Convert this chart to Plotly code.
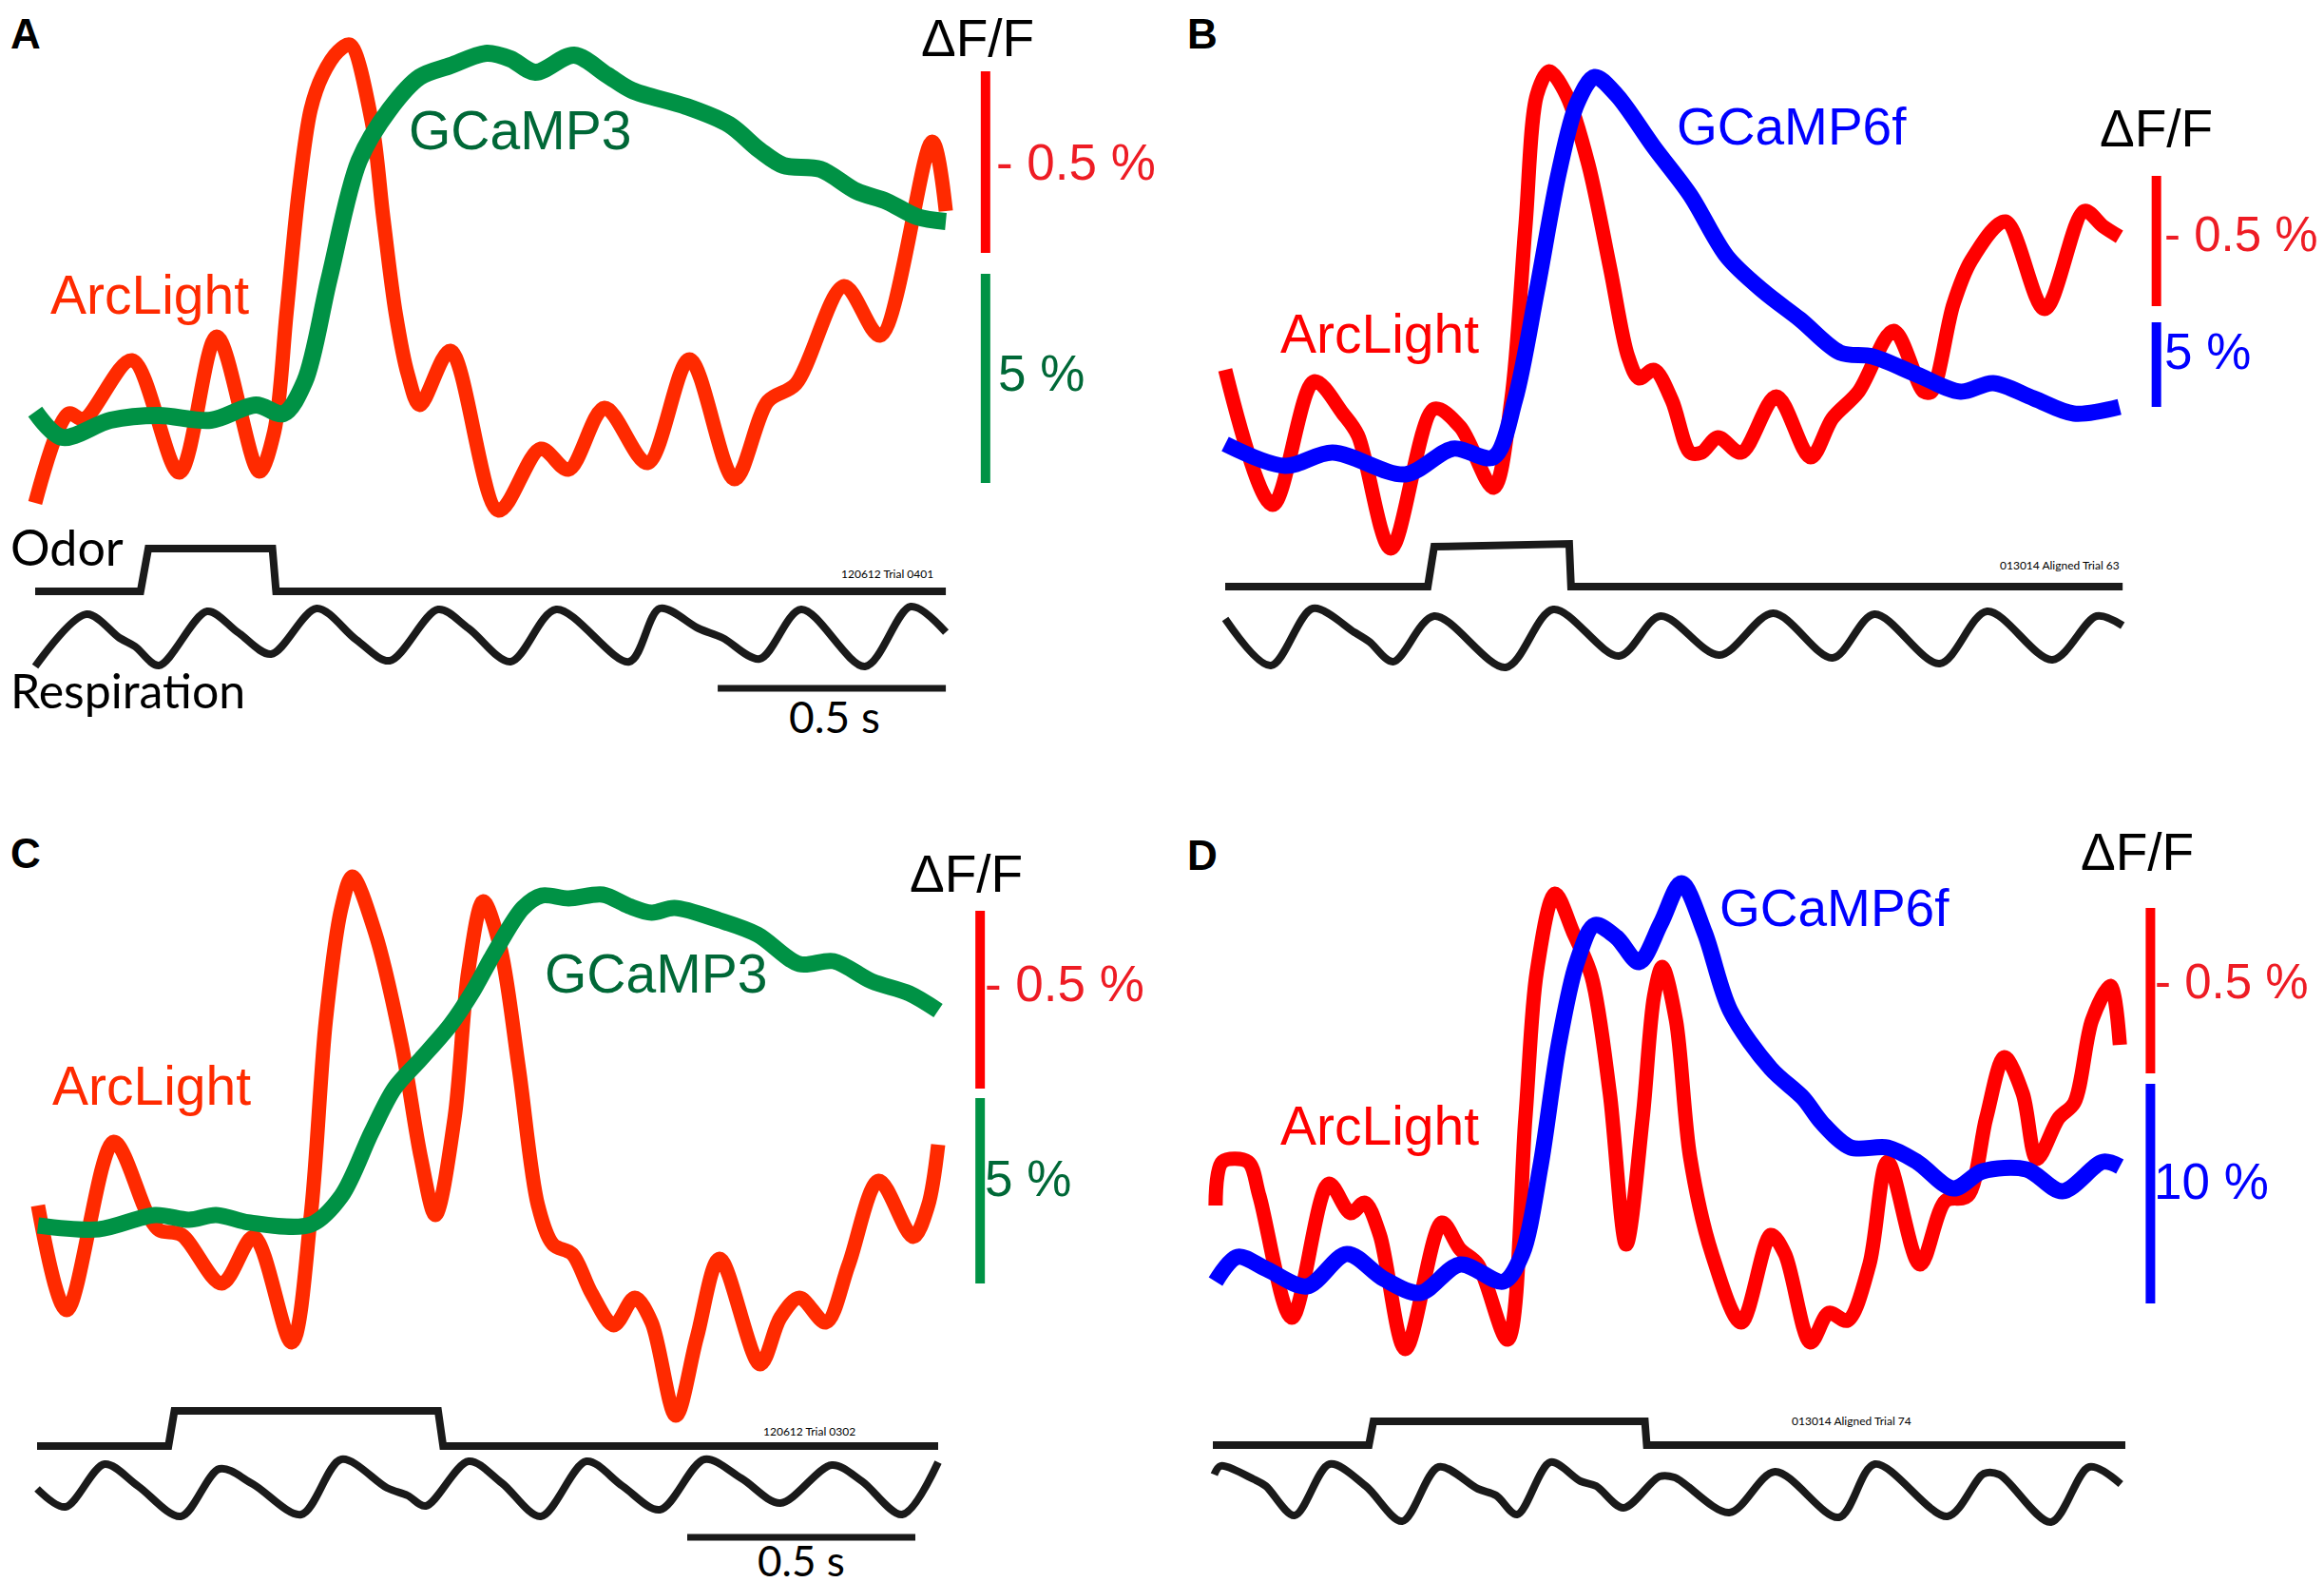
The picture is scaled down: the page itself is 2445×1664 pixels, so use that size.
import plotly.graph_objects as go

W, H = 2445, 1664
PX_PER_S = 480  # horizontal scale shared by the four panels

# ---------------- Panel A : ArcLight + GCaMP3 ----------------
A_RED_T = [0.000, 0.073, 0.106, 0.212, 0.316, 0.398, 0.491, 0.524, 0.551, 0.577, 0.604, 0.630, 0.664,
           0.690, 0.737, 0.763, 0.790, 0.817, 0.843, 0.910, 1.016, 1.108, 1.169, 1.248, 1.342, 1.434,
           1.533, 1.606, 1.667, 1.773, 1.852, 1.966, 1.996]
A_RED_V = [239, 333, 327, 389, 271, 414, 272, 314, 439, 564, 653, 689, 714,
           721, 642, 539, 439, 374, 342, 399, 231, 296, 274, 339, 281, 390,
           264, 346, 364, 467, 415, 619, 546]
A_GRN_T = [0.000, 0.059, 0.165, 0.271, 0.385, 0.484, 0.544, 0.591, 0.644, 0.710, 0.777, 0.843, 0.910,
           0.990, 1.042, 1.096, 1.181, 1.254, 1.308, 1.427, 1.521, 1.588, 1.640, 1.721, 1.800, 1.867,
           1.933, 1.996]
A_GRN_V = [335, 308, 326, 331, 326, 342, 333, 367, 474, 599, 653, 687, 699,
           712, 706, 692, 710, 689, 673, 656, 637, 610, 594, 590, 567, 556,
           540, 535]
A_ODOR_T = [0.0, 0.231, 0.248, 0.520, 0.528, 1.996]
A_ODOR_V = [146, 146, 191, 191, 146, 146]
A_RESP_T = [0.000, 0.113, 0.185, 0.219, 0.271, 0.377, 0.444, 0.517, 0.617, 0.704, 0.777, 0.883, 0.950,
            1.042, 1.142, 1.302, 1.369, 1.454, 1.507, 1.588, 1.679, 1.819, 1.919, 1.996]
A_RESP_V = [67, 122, 97, 88, 68, 125, 103, 80, 128, 95, 73, 127, 107,
            72, 127, 72, 128, 107, 97, 75, 127, 67, 130, 103]

# ---------------- Panel B : ArcLight + GCaMP6f ----------------
B_RED_T = [0.000, 0.104, 0.195, 0.258, 0.291, 0.363, 0.458, 0.515, 0.588, 0.627, 0.658, 0.683, 0.710,
           0.748, 0.796, 0.844, 0.883, 0.907, 0.940, 0.979, 1.019, 1.044, 1.080, 1.131, 1.208, 1.283,
           1.331, 1.388, 1.465, 1.531, 1.548, 1.596, 1.635, 1.710, 1.796, 1.883, 1.924, 1.960]
B_RED_V = [379, 237, 367, 333, 310, 191, 338, 319, 255, 347, 530, 668, 693,
           668, 595, 485, 393, 370, 379, 347, 292, 292, 308, 292, 351, 287,
           328, 356, 420, 356, 356, 448, 494, 535, 443, 546, 530, 519]
B_BLU_T = [0.000, 0.131, 0.235, 0.395, 0.499, 0.588, 0.635, 0.683, 0.731, 0.771, 0.810, 0.858, 0.940,
           1.019, 1.100, 1.179, 1.260, 1.348, 1.419, 1.516, 1.612, 1.683, 1.772, 1.860, 1.960]
B_BLU_V = [301, 278, 292, 269, 296, 287, 347, 462, 586, 659, 687, 668, 613,
           563, 498, 462, 432, 397, 393, 374, 356, 365, 349, 333, 340]
B_ODOR_T = [0.0, 0.444, 0.458, 0.754, 0.758, 1.967]
B_ODOR_V = [151, 151, 193, 196, 151, 151]
B_RESP_T = [0.000, 0.100, 0.192, 0.283, 0.316, 0.368, 0.458, 0.615, 0.719, 0.863, 0.954, 1.083, 1.201,
            1.331, 1.423, 1.566, 1.670, 1.813, 1.910, 1.967]
B_RESP_V = [117, 68, 128, 103, 93, 72, 120, 66, 127, 78, 120, 79, 123,
            76, 122, 70, 125, 74, 120, 110]

# ---------------- Panel C : ArcLight + GCaMP3 ----------------
C_RED_T = [0.002, 0.065, 0.168, 0.243, 0.268, 0.317, 0.405, 0.475, 0.558, 0.600, 0.633, 0.667, 0.691,
           0.741, 0.799, 0.841, 0.873, 0.915, 0.945, 0.978, 1.015, 1.056, 1.098, 1.131, 1.173, 1.215,
           1.264, 1.310, 1.347, 1.400, 1.446, 1.496, 1.585, 1.629, 1.671, 1.729, 1.779, 1.845, 1.920,
           1.953, 1.975]
C_RED_V = [404, 294, 471, 394, 378, 373, 322, 371, 260, 394, 599, 717, 750,
           691, 573, 455, 394, 496, 650, 724, 676, 548, 404, 363, 353, 312,
           278, 307, 281, 183, 265, 348, 237, 286, 307, 281, 342, 430, 371,
           404, 468]
C_GRN_T = [0.002, 0.135, 0.259, 0.333, 0.392, 0.467, 0.600, 0.667, 0.733, 0.783, 0.841, 0.906, 0.956,
           1.006, 1.065, 1.106, 1.165, 1.240, 1.297, 1.347, 1.397, 1.496, 1.579, 1.671, 1.746, 1.829,
           1.912, 1.975]
C_GRN_V = [383, 379, 394, 389, 394, 386, 384, 414, 481, 527, 558, 594, 630,
           673, 717, 730, 727, 731, 719, 712, 717, 704, 689, 658, 661, 640,
           627, 609]
C_ODOR_T = [0.0, 0.288, 0.301, 0.879, 0.890, 1.975]
C_ODOR_V = [151, 151, 188, 188, 151, 151]
C_RESP_T = [0.000, 0.062, 0.148, 0.221, 0.315, 0.400, 0.473, 0.579, 0.667, 0.767, 0.812, 0.852, 0.946,
            1.019, 1.104, 1.204, 1.283, 1.365, 1.463, 1.544, 1.629, 1.742, 1.808, 1.896, 1.975]
C_RESP_V = [106, 87, 132, 109, 77, 127, 111, 79, 137, 107, 99, 88, 135,
            112, 77, 135, 109, 84, 137, 117, 91, 131, 114, 79, 134]

# ---------------- Panel D : ArcLight + GCaMP6f ----------------
D_RED_T = [0.006, 0.021, 0.077, 0.102, 0.173, 0.254, 0.302, 0.333, 0.366, 0.422, 0.502, 0.542, 0.581,
           0.646, 0.685, 0.710, 0.750, 0.790, 0.830, 0.870, 0.906, 0.942, 0.967, 0.985, 1.015, 1.046,
           1.094, 1.158, 1.223, 1.254, 1.310, 1.350, 1.391, 1.439, 1.479, 1.550, 1.606, 1.654, 1.695,
           1.735, 1.775, 1.806, 1.854, 1.888, 1.927, 1.967, 1.988]
D_RED_V = [404, 450, 450, 414, 286, 427, 396, 407, 373, 253, 386, 358, 342,
           263, 496, 650, 732, 691, 645, 522, 363, 496, 624, 655, 599, 455,
           353, 281, 373, 353, 260, 291, 283, 342, 450, 342, 409, 414, 496,
           560, 522, 453, 496, 512, 599, 635, 573]
D_BLU_T = [0.006, 0.054, 0.118, 0.206, 0.294, 0.374, 0.454, 0.542, 0.637, 0.678, 0.718, 0.758, 0.798,
           0.837, 0.885, 0.934, 0.982, 1.027, 1.078, 1.134, 1.223, 1.294, 1.335, 1.398, 1.479, 1.543,
           1.623, 1.687, 1.783, 1.862, 1.951, 1.988]
D_BLU_V = [324, 350, 337, 319, 353, 327, 312, 342, 324, 353, 445, 573, 660,
           699, 686, 660, 701, 743, 691, 609, 548, 517, 491, 465, 465, 450,
           422, 440, 442, 419, 450, 445]
D_ODOR_T = [0.0, 0.342, 0.352, 0.947, 0.951, 2.0]
D_ODOR_V = [152, 152, 177, 177, 152, 152]
D_RESP_T = [0.003, 0.017, 0.090, 0.116, 0.179, 0.256, 0.335, 0.415, 0.495, 0.581, 0.621, 0.667, 0.740,
            0.806, 0.840, 0.900, 0.979, 1.012, 1.132, 1.232, 1.372, 1.451, 1.610, 1.690, 1.724, 1.837,
            1.921, 1.990]
D_RESP_V = [121, 130, 116, 109, 78, 132, 109, 72, 129, 106, 99, 79, 134,
            114, 109, 86, 119, 118, 81, 124, 76, 132, 77, 122, 121, 71,
            129, 111]

RED_A = '#ff2a00'
RED_B = '#ff0000'
RED_TXT = '#ee1c24'
GREEN = '#009245'
GREEN_TXT = '#006837'
BLUE = '#0000ff'
BLACK = '#1a1a1a'

# panel boxes in output pixels; x0 is where t = 0 sits
PANELS = {
    'A': dict(n='', x0=29, top=0, bottom=760, left=0, right=1240),
    'B': dict(n='2', x0=1281, top=0, bottom=760, left=1240, right=W),
    'C': dict(n='3', x0=31, top=840, bottom=H, left=0, right=1240),
    'D': dict(n='4', x0=1268, top=840, bottom=H, left=1240, right=W),
}

fig = go.Figure()


def add_line(panel, t, v, color, width, spline=True):
    n = PANELS[panel]['n']
    fig.add_trace(go.Scatter(
        x=t, y=v, mode='lines', xaxis='x' + n, yaxis='y' + n,
        line=dict(color=color, width=width, shape='spline' if spline else 'linear', smoothing=0.9),
        hoverinfo='skip', showlegend=False))


# fluorescence traces
add_line('A', A_RED_T, A_RED_V, RED_A, 15)
add_line('A', A_GRN_T, A_GRN_V, GREEN, 18)
add_line('B', B_RED_T, B_RED_V, RED_B, 15)
add_line('B', B_BLU_T, B_BLU_V, BLUE, 17)
add_line('C', C_RED_T, C_RED_V, RED_A, 15)
add_line('C', C_GRN_T, C_GRN_V, GREEN, 17)
add_line('D', D_RED_T, D_RED_V, RED_B, 15)
add_line('D', D_BLU_T, D_BLU_V, BLUE, 17)

# odor steps and respiration
for p, ot, ov, rt, rv in [('A', A_ODOR_T, A_ODOR_V, A_RESP_T, A_RESP_V),
                          ('B', B_ODOR_T, B_ODOR_V, B_RESP_T, B_RESP_V),
                          ('C', C_ODOR_T, C_ODOR_V, C_RESP_T, C_RESP_V),
                          ('D', D_ODOR_T, D_ODOR_V, D_RESP_T, D_RESP_V)]:
    add_line(p, ot, ov, BLACK, 8, spline=False)
    add_line(p, rt, rv, BLACK, 8)

# axes, one invisible pair per panel
layout = dict(width=W, height=H, margin=dict(l=0, r=0, t=0, b=0),
              paper_bgcolor='white', plot_bgcolor='white', showlegend=False)
for p, c in PANELS.items():
    n = c['n']
    layout['xaxis' + n] = dict(domain=[c['left'] / W, c['right'] / W],
                               range=[(c['left'] - c['x0']) / PX_PER_S, (c['right'] - c['x0']) / PX_PER_S],
                               visible=False, fixedrange=True)
    layout['yaxis' + n] = dict(domain=[1 - c['bottom'] / H, 1 - c['top'] / H],
                               range=[0, c['bottom'] - c['top']], visible=False, fixedrange=True)
fig.update_layout(**layout)

# ΔF/F scale bars (t position, v from, v to, colour)
DFF_BARS = {
    'A': [(2.083, 693, 502, RED_B), (2.083, 480, 260, GREEN)],
    'B': [(2.041, 583, 446, RED_B), (2.041, 429, 340, BLUE)],
    'C': [(2.067, 714, 527, RED_B), (2.067, 517, 322, GREEN)],
    'D': [(2.055, 717, 543, RED_B), (2.055, 532, 301, BLUE)],
}
for p, bars in DFF_BARS.items():
    n = PANELS[p]['n']
    for t, v0, v1, col in bars:
        fig.add_shape(type='line', xref='x' + n, yref='y' + n, x0=t, x1=t, y0=v0, y1=v1,
                      line=dict(color=col, width=10))

# 0.5 s time bars
TIME_BARS = {'A': (1.496, 0.5, 44), 'C': (1.425, 0.5, 55)}
for p, (t0, dur, v) in TIME_BARS.items():
    n = PANELS[p]['n']
    fig.add_shape(type='line', xref='x' + n, yref='y' + n, x0=t0, x1=t0 + dur, y0=v, y1=v,
                  line=dict(color=BLACK, width=7))

ARIAL = 'Liberation Sans, Arial, sans-serif'
MYRIAD = 'Lato, Open Sans, sans-serif'


def label(text, x, y, size, color, family=ARIAL, anchor='left', yanchor='middle'):
    fig.add_annotation(text=text, x=x / W, y=1 - y / H, xref='paper', yref='paper',
                       xanchor=anchor, yanchor=yanchor, showarrow=False, borderpad=0,
                       font=dict(size=size, color=color, family=family))


for txt, x, y in [('A', 2, 2), ('B', 1240, 2), ('C', 2, 864), ('D', 1240, 866)]:
    label('<b>%s</b>' % txt, x, y, 44, '#000000', yanchor='top')

# panel A
label('ArcLight', 44, 302, 57, RED_A)
label('GCaMP3', 421, 129, 57, GREEN_TXT)
label('ΔF/F', 1020, 0, 55, '#000000', anchor='center', yanchor='top')
label('- 0.5 %', 1039, 162, 53, RED_TXT)
label('5 %', 1041, 384, 53, GREEN_TXT)
label('Odor', 2, 567, 52, '#000000', MYRIAD)
label('Respiration', 2, 718, 50, '#000000', MYRIAD)
label('0.5 s', 870, 745, 46, '#000000', MYRIAD, 'center')
label('120612 Trial 0401', 925, 595, 12, '#000000', MYRIAD, 'center')

# panel B
label('ArcLight', 1338, 343, 57, RED_B)
label('GCaMP6f', 1755, 125, 55, BLUE)
label('ΔF/F', 2260, 127, 55, '#000000', anchor='center')
label('- 0.5 %', 2268, 238, 51, RED_TXT)
label('5 %', 2268, 361, 53, BLUE)
label('013014 Aligned Trial 63', 2159, 586, 12, '#000000', MYRIAD, 'center')

# panel C
label('ArcLight', 46, 1134, 57, RED_A)
label('GCaMP3', 564, 1016, 57, GREEN_TXT)
label('ΔF/F', 1008, 911, 55, '#000000', anchor='center')
label('- 0.5 %', 1027, 1026, 53, RED_TXT)
label('5 %', 1027, 1231, 53, GREEN_TXT)
label('120612 Trial 0302', 843, 1497, 12, '#000000', MYRIAD, 'center')
label('0.5 s', 835, 1660, 44, '#000000', MYRIAD, 'center', 'bottom')

# panel D
label('ArcLight', 1338, 1176, 57, RED_B)
label('GCaMP6f', 1800, 947, 55, BLUE)
label('ΔF/F', 2240, 888, 55, '#000000', anchor='center')
label('- 0.5 %', 2258, 1024, 51, RED_TXT)
label('10 %', 2257, 1234, 53, BLUE)
label('013014 Aligned Trial 74', 1940, 1486, 12, '#000000', MYRIAD, 'center')

fig.write_html('out.html')
